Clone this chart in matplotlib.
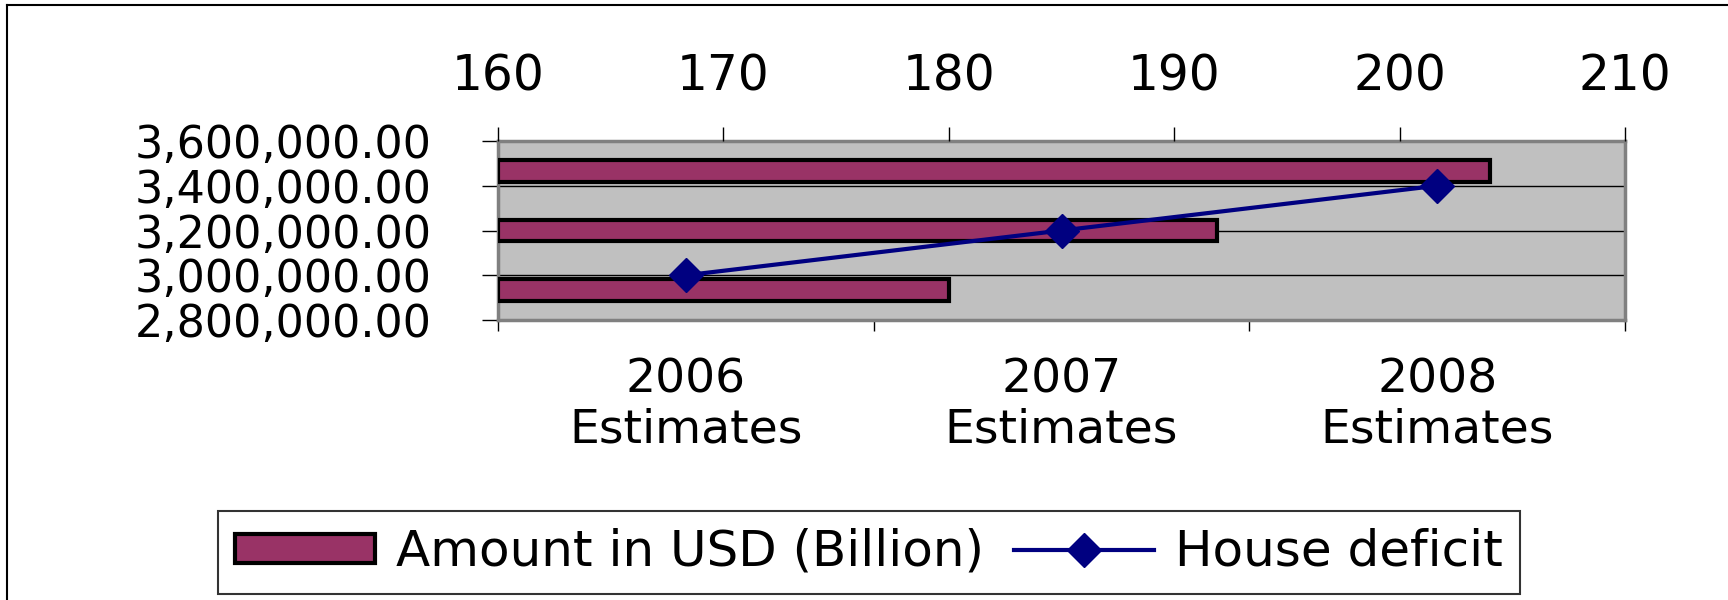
import matplotlib
matplotlib.use("Agg")
import matplotlib.pyplot as plt
from matplotlib.lines import Line2D
from matplotlib.ticker import FuncFormatter, FixedLocator

plt.rcParams['font.family'] = ['DejaVu Sans']

# data
categories = ['2006\nEstimates', '2007\nEstimates', '2008\nEstimates']
amount_usd_billion = [180, 191.9, 204]
house_deficit = [3000000, 3200000, 3400000]

amount_ticks = [160, 170, 180, 190, 200, 210]
deficit_ticks = [2800000, 3000000, 3200000, 3400000, 3600000]

W, H = 1728, 600
fig = plt.figure(figsize=(W / 100, H / 100), dpi=100)
pos = [498 / W, 1 - 320 / H, (1625 - 498) / W, (320 - 141) / H]

# base axes: grey plot area, left value axis, bottom category axis
ax = fig.add_axes(pos)
ax.set_facecolor('#C0C0C0')
ax.set_ylim(deficit_ticks[0], deficit_ticks[-1])
ax.set_yticks(deficit_ticks)
ax.yaxis.set_major_formatter(FuncFormatter(lambda v, p: f'{v:,.2f}'))
ax.set_xlim(-0.5, len(categories) - 0.5)
ax.xaxis.set_major_locator(FixedLocator([i - 0.5 for i in range(len(categories) + 1)]))
ax.xaxis.set_minor_locator(FixedLocator(list(range(len(categories)))))
ax.set_xticklabels([])
ax.set_xticklabels(categories, minor=True, fontsize=34, linespacing=1.15)
ax.tick_params(axis='x', which='major', length=8, width=1, color='black')
ax.tick_params(axis='x', which='minor', length=0, pad=27)
ax.tick_params(axis='y', length=11.5, width=1, pad=36, labelsize=32)
ax.grid(axis='y', color='black', lw=1)
ax.set_axisbelow(True)
for s in ax.spines.values():
    s.set_color('#808080')
    s.set_linewidth(2.5)

# bars on top axis
axb = fig.add_axes(pos)
axb.patch.set_visible(False)
axb.set_xlim(amount_ticks[0], amount_ticks[-1])
axb.set_ylim(-0.5, len(categories) - 0.5)
bars = axb.barh(range(len(categories)),
                [a - amount_ticks[0] for a in amount_usd_billion],
                left=amount_ticks[0], height=0.36,
                color='#993366', edgecolor='black', linewidth=3,
                label='Amount in USD (Billion)')
axb.set_xticks(amount_ticks)
axb.xaxis.tick_top()
axb.tick_params(axis='x', top=True, bottom=False, labeltop=True, labelbottom=False,
                length=10, width=1, pad=19, labelsize=35)
axb.set_yticks([])
for s in axb.spines.values():
    s.set_visible(False)

# line above the bars
axl = fig.add_axes(pos, sharex=ax, sharey=ax)
axl.patch.set_visible(False)
axl.axis('off')
line, = axl.plot(range(len(categories)), house_deficit, color='#000080', lw=3,
                 marker='D', markersize=17, label='House deficit')

leg = fig.legend(handles=[bars, line], loc='center', bbox_to_anchor=(869 / W, 1 - 552 / H),
                 ncol=2, fontsize=36, frameon=True, fancybox=False,
                 handlelength=2.8, handleheight=0.5, handletextpad=0.42,
                 columnspacing=0.6, borderpad=0.35)
leg.get_frame().set_edgecolor('black')
leg.get_frame().set_linewidth(1.5)

# chart area border (top and left edges visible)
fig.add_artist(Line2D([7 / W, 1], [1 - 5 / H, 1 - 5 / H], transform=fig.transFigure,
                      color='black', lw=1.5))
fig.add_artist(Line2D([7 / W, 7 / W], [0, 1 - 5 / H], transform=fig.transFigure,
                      color='black', lw=1.5))

fig.savefig('out.png', dpi=100)
